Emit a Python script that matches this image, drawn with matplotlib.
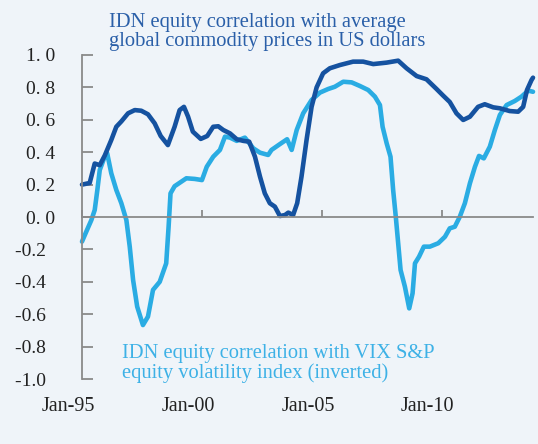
import matplotlib
matplotlib.use('Agg')
import matplotlib.pyplot as plt
from matplotlib.transforms import ScaledTranslation

# decimal years
commod_t = [1995.00, 1995.32, 1995.53, 1995.74, 1995.95, 1996.22, 1996.43, 1996.64, 1996.92,
            1997.20, 1997.47, 1997.75, 1998.03, 1998.28, 1998.58, 1998.86, 1999.07, 1999.25,
            1999.42, 1999.62, 1999.95, 2000.22, 2000.47, 2000.68, 2000.89, 2001.17, 2001.45,
            2001.72, 2001.97, 2002.21, 2002.42, 2002.62, 2002.83, 2003.04, 2003.25, 2003.46,
            2003.60, 2003.80, 2003.97, 2004.15, 2004.36, 2004.57, 2004.78, 2005.05, 2005.33,
            2005.75, 2006.30, 2006.72, 2007.14, 2007.70, 2008.18, 2008.53, 2008.95, 2009.36,
            2009.78, 2010.05, 2010.33, 2010.61, 2010.89, 2011.17, 2011.51, 2011.79, 2012.14,
            2012.42, 2012.83, 2013.18, 2013.39, 2013.55, 2013.74, 2013.80]
commod_v = [0.20, 0.21, 0.33, 0.32, 0.38, 0.475, 0.557, 0.59, 0.64,
            0.66, 0.656, 0.634, 0.578, 0.50, 0.444, 0.557, 0.66, 0.68,
            0.62, 0.527, 0.482, 0.50, 0.557, 0.56, 0.537, 0.516, 0.48,
            0.47, 0.465, 0.372, 0.249, 0.146, 0.085, 0.064, 0.006, 0.012,
            0.027, 0.012, 0.085, 0.249, 0.475, 0.68, 0.80, 0.887, 0.918,
            0.938, 0.959, 0.959, 0.944, 0.953, 0.965, 0.918, 0.87, 0.85,
            0.79, 0.75, 0.71, 0.64, 0.599, 0.619, 0.68, 0.696, 0.677,
            0.671, 0.654, 0.65, 0.68, 0.784, 0.846, 0.86]

vix_t = [1995.00, 1995.18, 1995.39, 1995.53, 1995.64, 1995.74, 1995.92, 1996.05, 1996.22,
         1996.43, 1996.64, 1996.85, 1996.99, 1997.13, 1997.30, 1997.54, 1997.75, 1997.96,
         1998.24, 1998.51, 1998.61, 1998.69, 1998.86, 1999.14, 1999.35, 1999.70, 2000.00,
         2000.20, 2000.47, 2000.75, 2000.96, 2001.17, 2001.45, 2001.79, 2002.14, 2002.42,
         2002.76, 2002.90, 2003.25, 2003.55, 2003.74, 2003.95, 2004.22, 2004.57, 2004.92,
         2005.26, 2005.54, 2005.89, 2006.24, 2006.58, 2006.93, 2007.21, 2007.42, 2007.53,
         2007.70, 2007.86, 2007.97, 2008.08, 2008.18, 2008.28, 2008.46, 2008.64, 2008.78,
         2008.88, 2009.05, 2009.25, 2009.50, 2009.85, 2010.13, 2010.33, 2010.54, 2010.75,
         2010.96, 2011.17, 2011.38, 2011.55, 2011.75, 2012.00, 2012.21, 2012.42, 2012.70,
         2013.04, 2013.32, 2013.60, 2013.80]
vix_v = [-0.152, -0.09, -0.019, 0.043, 0.167, 0.29, 0.362, 0.393, 0.27,
         0.167, 0.085, -0.019, -0.183, -0.389, -0.553, -0.667, -0.615, -0.45,
         -0.40, -0.286, -0.06, 0.146, 0.19, 0.218, 0.239, 0.235, 0.228,
         0.31, 0.372, 0.414, 0.496, 0.49, 0.47, 0.49, 0.424, 0.397,
         0.383, 0.414, 0.45, 0.48, 0.414, 0.537, 0.64, 0.722, 0.768,
         0.79, 0.804, 0.835, 0.831, 0.809, 0.784, 0.743, 0.691, 0.557,
         0.455, 0.372, 0.167, 0.002, -0.162, -0.327, -0.43, -0.564, -0.471,
         -0.286, -0.245, -0.183, -0.183, -0.162, -0.122, -0.07, -0.06, 0.002,
         0.085, 0.208, 0.31, 0.377, 0.362, 0.434, 0.537, 0.63, 0.691,
         0.716, 0.743, 0.78, 0.773]

yticks = [1.0, 0.8, 0.6, 0.4, 0.2, 0.0, -0.2, -0.4, -0.6, -0.8, -1.0]
ylabels = ['1. 0', '0. 8', '0. 6', '0. 4', '0. 2', '0. 0',
           '-0.2  ', '-0.4  ', '-0.6  ', '-0.8  ', '-1.0  ']
xticks = [1995, 2000, 2005, 2010]
xlabels = ['Jan-95', 'Jan-00', 'Jan-05', 'Jan-10']

bg = '#eff4f9'
dark = '#1552a0'
light = '#2aace3'
grey = '#8a8a8a'

plt.rcParams['font.family'] = ['Liberation Serif', 'DejaVu Serif']

fig = plt.figure(figsize=(5.38, 4.44), dpi=100, facecolor=bg)
ax = fig.add_axes([82/538, 65/444, 451/538, 324/444])
ax.set_facecolor(bg)

ax.plot(vix_t, vix_v, color=light, lw=3.3, solid_capstyle='round', solid_joinstyle='round', clip_on=False)
ax.plot(commod_t, commod_v, color=dark, lw=3.3, solid_capstyle='round', solid_joinstyle='round', clip_on=False)

ax.set_xlim(1995, 2013.8)
ax.set_ylim(-1, 1)

for s in ['top', 'right']:
    ax.spines[s].set_visible(False)
ax.spines['left'].set_color(grey)
ax.spines['left'].set_linewidth(1.3)
ax.spines['bottom'].set_position(('data', 0))
ax.spines['bottom'].set_color(grey)
ax.spines['bottom'].set_linewidth(1.3)

ax.set_yticks(yticks)
ax.set_yticklabels(ylabels)
ax.tick_params(axis='y', direction='in', length=8, width=1.3, color=grey,
               labelsize=14, pad=19, labelcolor='#222222')
ax.set_xticks(xticks)
ax.tick_params(axis='x', direction='in', length=5, width=1.3, color=grey, labelbottom=False)

# date labels sit at the bottom, not on the zero line
sec = ax.secondary_xaxis('bottom')
for s in sec.spines.values():
    s.set_visible(False)
sec.set_xticks(xticks)
sec.set_xticklabels(xlabels)
sec.tick_params(axis='x', length=0, labelsize=14.5, pad=13, labelcolor='#222222')
shift = ScaledTranslation(-14/100, 0, fig.dpi_scale_trans)
for lab in sec.get_xticklabels():
    lab.set_transform(lab.get_transform() + shift)

fig.text(109/538, 1 - 13/444, 'IDN equity correlation with average\nglobal commodity prices in US dollars',
         color='#2a5fa8', fontsize=14.8, va='top', ha='left', linespacing=1.02)
fig.text(122/538, 1 - 344/444, 'IDN equity correlation with VIX S&P\nequity volatility index (inverted)',
         color='#3db1e6', fontsize=14.8, va='top', ha='left', linespacing=1.02)

fig.savefig('out.png', dpi=100, facecolor=bg)
